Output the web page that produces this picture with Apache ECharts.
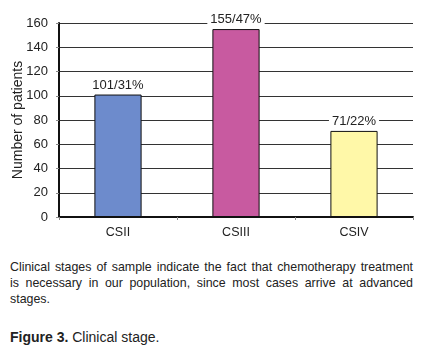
<!DOCTYPE html>
<html>
<head>
<meta charset="utf-8">
<script src="https://cdn.jsdelivr.net/npm/echarts@6/dist/echarts.min.js"></script>
<style>
  html, body { margin: 0; padding: 0; background: #fff; }
  #chart { width: 422px; height: 240px; }
  .caption {
    position: absolute; left: 10px; top: 259px; width: 403px;
    font-family: "Liberation Sans", Arial, sans-serif; font-size: 12.4px;
    line-height: 16px; color: #222;
  }
  .caption .full { text-align: justify; text-align-last: justify; }
  .figure {
    position: absolute; left: 10px; top: 329px;
    font-family: "Liberation Sans", Arial, sans-serif; font-size: 14px; color: #222;
  }
</style>
</head>
<body>
<div id="chart"></div>
<div class="caption">
  <div class="full">Clinical stages of sample indicate the fact that chemotherapy treatment</div>
  <div class="full">is necessary in our population, since most cases arrive at advanced</div>
  <div>stages.</div>
</div>
<div class="figure"><b>Figure 3.</b> Clinical stage.</div>
<script>
const categories = ['CSII', 'CSIII', 'CSIV'];
const patients = [101, 155, 71];
const percents = ['31%', '47%', '22%'];
const barColors = ['#6d8bcc', '#c85aa0', '#fff8a8'];

const chart = echarts.init(document.getElementById('chart'));

const option = {
  animation: false,
  textStyle: { fontFamily: '"Liberation Sans", Arial, sans-serif' },
  grid: { left: 59, right: 9, top: 23, bottom: 23, outerBoundsMode: 'none' },
  xAxis: {
    type: 'category',
    data: categories,
    axisLine: { lineStyle: { color: '#111', width: 2 } },
    axisTick: { show: true, length: 3, lineStyle: { color: '#888' } },
    axisLabel: { color: '#222', fontSize: 12.5, margin: 9 }
  },
  yAxis: {
    type: 'value',
    min: 0,
    max: 160,
    interval: 20,
    name: 'Number of patients',
    nameLocation: 'middle',
    nameGap: 34,
    nameMoveOverlap: false,
    nameTextStyle: { color: '#222', fontSize: 14 },
    axisLine: { show: true, lineStyle: { color: '#111', width: 2 } },
    axisTick: { show: true, length: 3, lineStyle: { color: '#888' } },
    axisLabel: { color: '#222', fontSize: 13, margin: 11 },
    splitLine: { lineStyle: { color: '#333', width: 1 } }
  },
  series: [{
    type: 'bar',
    barWidth: '40%',
    data: patients.map((v, i) => ({
      value: v,
      itemStyle: { color: barColors[i], borderColor: '#111', borderWidth: 1 }
    })),
    label: {
      show: true,
      position: 'top',
      distance: 3,
      color: '#222',
      fontSize: 13,
      backgroundColor: '#fff',
      padding: [0, 3],
      formatter: p => p.value + '/' + percents[p.dataIndex]
    }
  }]
};

chart.setOption(option);
</script>
</body>
</html>
